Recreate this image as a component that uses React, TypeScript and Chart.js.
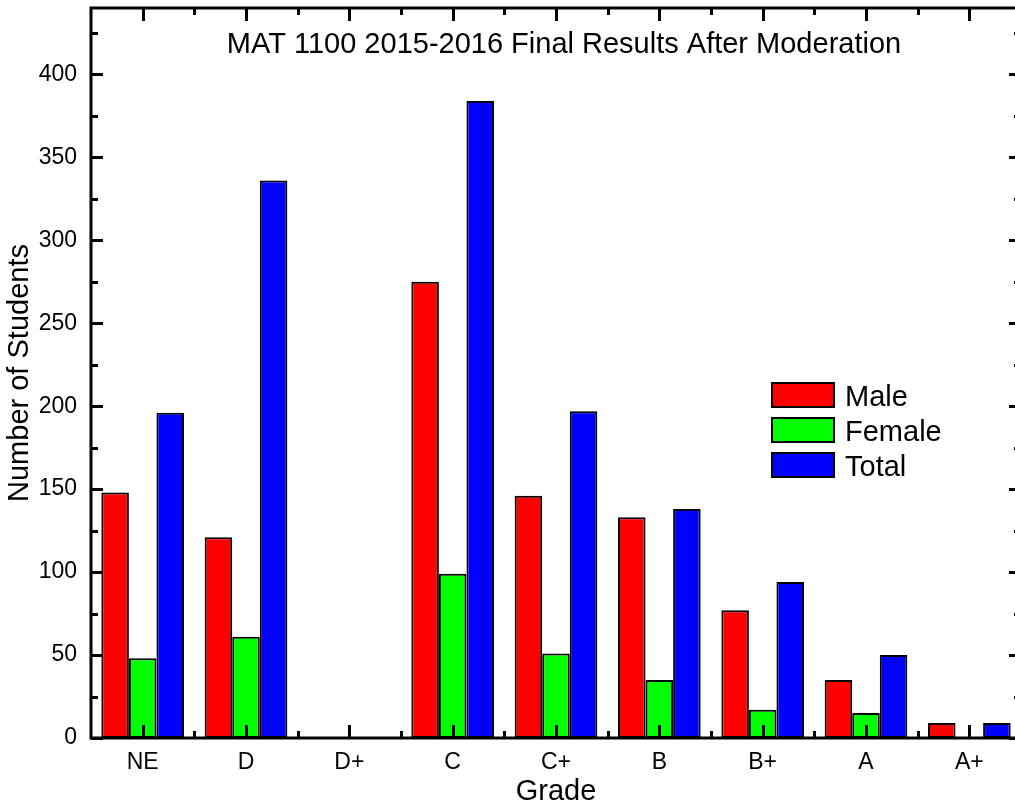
import React, { useEffect, useRef } from "react";
import { Chart, registerables } from "chart.js";

Chart.register(...registerables);

const grades = ["NE", "D", "D+", "C", "C+", "B", "B+", "A", "A+"];
const maleCounts = [148, 121, 0, 275, 146, 133, 77, 35, 9];
const femaleCounts = [48, 61, 0, 99, 51, 35, 17, 15, 0];
const totalCounts = [196, 336, 0, 384, 197, 138, 94, 50, 9];
const seriesNames = ["Male", "Female", "Total"];
const seriesColors = ["#FF0000", "#00FF00", "#0000FF"];
const yMajorStep = 50;
const yMinorStep = 25;
const yMax = 440;
const chartTitle = "MAT 1100 2015-2016 Final Results After Moderation";
const xAxisTitle = "Grade";
const yAxisTitle = "Number of Students";

const FONT = '"Liberation Sans", Arial, sans-serif';

const framePlugin = {
  id: "originFrame",
  afterDatasetsDraw(chart: any) {
    const { ctx, chartArea: a, scales } = chart;
    const xs = scales.x;
    const ys = scales.y;
    ctx.save();
    ctx.strokeStyle = "#000";
    ctx.lineWidth = 3;
    ctx.lineCap = "butt";
    ctx.strokeRect(a.left, a.top, a.right - a.left, a.bottom - a.top);

    // y ticks (inward, left and right)
    ctx.beginPath();
    for (let v = 0; v <= yMax; v += yMinorStep) {
      const py = Math.round(ys.getPixelForValue(v)) + 0.5;
      const len = v % yMajorStep === 0 ? 12 : 7;
      ctx.moveTo(a.left, py);
      ctx.lineTo(a.left + len, py);
      ctx.moveTo(a.right, py);
      ctx.lineTo(a.right - len, py);
    }
    // x ticks (inward, bottom and top)
    for (let i = 0; i < grades.length; i++) {
      const px = Math.round(xs.getPixelForValue(i)) + 0.5;
      ctx.moveTo(px, a.bottom);
      ctx.lineTo(px, a.bottom - 13);
      ctx.moveTo(px, a.top);
      ctx.lineTo(px, a.top + 13);
      if (i < grades.length - 1) {
        const bx = Math.round((xs.getPixelForValue(i) + xs.getPixelForValue(i + 1)) / 2) + 0.5;
        ctx.moveTo(bx, a.bottom);
        ctx.lineTo(bx, a.bottom - 7);
        ctx.moveTo(bx, a.top);
        ctx.lineTo(bx, a.top + 7);
      }
    }
    ctx.stroke();

    // title inside plot
    ctx.fillStyle = "#000";
    ctx.font = `29px ${FONT}`;
    ctx.textAlign = "center";
    ctx.textBaseline = "alphabetic";
    ctx.fillText(chartTitle, (a.left + a.right) / 2 + 8, a.top + 45);

    // legend inside plot
    ctx.font = `29px ${FONT}`;
    ctx.textAlign = "left";
    chart.data.datasets.forEach((ds: any, i: number) => {
      const bx = a.left + 681;
      const by = a.top + 375 + i * 35;
      const bw = 62;
      const bh = 24;
      ctx.fillStyle = ds.backgroundColor;
      ctx.fillRect(bx, by, bw, bh);
      ctx.lineWidth = 2;
      ctx.strokeStyle = "#000";
      ctx.strokeRect(bx, by, bw, bh);
      ctx.fillStyle = "#000";
      ctx.fillText(ds.label, bx + bw + 11, by + bh - 1);
    });
    ctx.restore();
  },
};

export default function App() {
  const canvasRef = useRef<HTMLCanvasElement | null>(null);

  useEffect(() => {
    const canvas = canvasRef.current;
    if (!canvas) return;
    const seriesData = [maleCounts, femaleCounts, totalCounts];
    const chart = new Chart(canvas, {
      type: "bar",
      data: {
        labels: grades,
        datasets: seriesNames.map((name, i) => ({
          label: name,
          data: seriesData[i],
          backgroundColor: seriesColors[i],
          borderColor: "#000",
          borderWidth: 2,
          borderSkipped: false,
          categoryPercentage: 0.8,
          barPercentage: 1.0,
        })),
      },
      options: {
        responsive: false,
        animation: false,
        devicePixelRatio: 1,
        layout: { padding: { top: 8, left: 0, right: 19, bottom: 0 } },
        plugins: {
          legend: { display: false },
          title: { display: false },
          tooltip: { enabled: false },
        },
        scales: {
          x: {
            grid: { display: false, drawTicks: false },
            border: { display: false },
            ticks: {
              color: "#000",
              padding: 11,
              font: { family: FONT, size: 23 },
              maxRotation: 0,
              autoSkip: false,
            },
            title: {
              display: true,
              text: xAxisTitle,
              color: "#000",
              font: { family: FONT, size: 29 },
              padding: { top: 0, bottom: -2 },
            },
            afterFit(scale: any) {
              scale.height = 69;
              scale.paddingLeft = 0;
              scale.paddingRight = 0;
            },
          },
          y: {
            min: 0,
            max: yMax,
            grid: { display: false, drawTicks: false },
            border: { display: false },
            ticks: {
              stepSize: yMajorStep,
              color: "#000",
              padding: 14,
              font: { family: FONT, size: 23 },
            },
            afterBuildTicks(scale: any) {
              scale.ticks = scale.ticks.filter((t: any) => t.value % yMajorStep === 0);
            },
            title: {
              display: true,
              text: yAxisTitle,
              color: "#000",
              font: { family: FONT, size: 29 },
              padding: { top: 3, bottom: 0 },
            },
            afterFit(scale: any) {
              scale.width = 91;
              scale.paddingTop = 0;
              scale.paddingBottom = 0;
            },
          },
        },
      },
      plugins: [framePlugin],
    });
    return () => chart.destroy();
  }, []);

  return (
    <div
      style={{
        position: "absolute",
        left: 0,
        top: 0,
        width: 1015,
        height: 807,
        overflow: "hidden",
        background: "#fff",
      }}
    >
      <canvas ref={canvasRef} width={1040} height={807} style={{ width: 1040, height: 807, display: "block" }} />
    </div>
  );
}
